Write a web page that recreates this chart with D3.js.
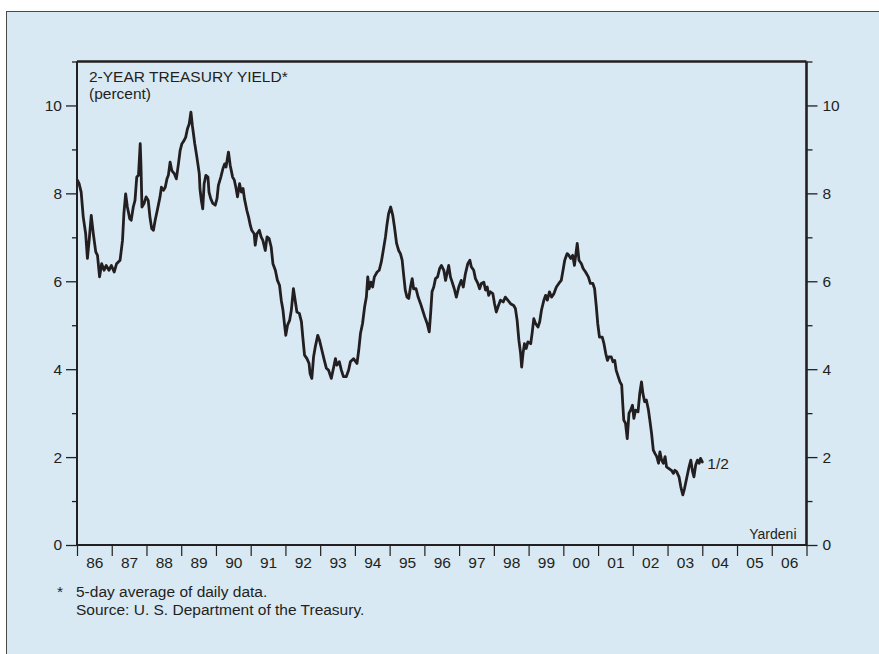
<!DOCTYPE html>
<html><head><meta charset="utf-8">
<script src="https://cdn.jsdelivr.net/npm/d3@7"></script>
<style>
html,body{margin:0;padding:0;background:#fff;}
svg{display:block;}
text{font-family:"Liberation Sans",Arial,Helvetica,sans-serif;fill:#231f20;}
</style>
</head><body>
<svg id="c" width="879" height="654"></svg>
<script>
// ---- data ----
const years = [1986.01,1986.06,1986.12,1986.18,1986.25,1986.30,1986.35,1986.41,1986.47,1986.54,1986.59,1986.65,1986.71,1986.78,1986.84,1986.92,1986.99,
1987.07,1987.14,1987.24,1987.31,1987.35,1987.40,1987.45,1987.52,1987.56,1987.62,1987.67,1987.72,1987.77,1987.82,1987.84,1987.87,1987.93,1987.99,
1988.05,1988.10,1988.15,1988.20,1988.25,1988.31,1988.39,1988.43,1988.49,1988.54,1988.59,1988.63,1988.68,1988.73,1988.80,1988.86,1988.92,1988.97,
1989.02,1989.08,1989.13,1989.18,1989.23,1989.28,1989.32,1989.39,1989.45,1989.52,1989.54,1989.58,1989.62,1989.66,1989.71,1989.77,1989.80,1989.85,1989.91,1989.98,
1990.03,1990.07,1990.14,1990.20,1990.25,1990.29,1990.36,1990.41,1990.48,1990.53,1990.58,1990.62,1990.68,1990.73,1990.78,1990.82,1990.89,1990.94,1990.99,
1991.03,1991.10,1991.13,1991.18,1991.25,1991.30,1991.35,1991.42,1991.47,1991.53,1991.59,1991.64,1991.71,1991.77,1991.83,1991.88,1991.93,1991.97,
1992.01,1992.06,1992.12,1992.17,1992.23,1992.28,1992.33,1992.40,1992.46,1992.50,1992.55,1992.62,1992.68,1992.71,1992.76,1992.81,1992.86,1992.93,1992.98,
1993.05,1993.12,1993.18,1993.24,1993.32,1993.39,1993.44,1993.48,1993.55,1993.61,1993.67,1993.75,1993.82,1993.87,1993.96,
1994.06,1994.11,1994.16,1994.22,1994.28,1994.33,1994.37,1994.41,1994.46,1994.51,1994.56,1994.64,1994.70,1994.76,1994.81,1994.88,1994.92,1994.97,
1995.03,1995.09,1995.14,1995.20,1995.26,1995.31,1995.36,1995.40,1995.45,1995.50,1995.55,1995.60,1995.65,1995.69,1995.76,1995.82,1995.89,1995.95,
1996.01,1996.08,1996.14,1996.18,1996.22,1996.27,1996.32,1996.38,1996.44,1996.49,1996.56,1996.61,1996.65,1996.70,1996.75,1996.80,1996.86,1996.92,1996.99,
1997.06,1997.12,1997.18,1997.25,1997.31,1997.35,1997.42,1997.47,1997.54,1997.59,1997.64,1997.71,1997.76,1997.81,1997.85,1997.90,1997.97,
1998.02,1998.07,1998.12,1998.19,1998.27,1998.33,1998.40,1998.48,1998.57,1998.62,1998.67,1998.72,1998.77,1998.80,1998.84,1998.88,1998.93,1998.98,
1999.06,1999.10,1999.15,1999.20,1999.27,1999.32,1999.37,1999.44,1999.49,1999.54,1999.60,1999.66,1999.73,1999.80,1999.87,1999.94,
2000.00,2000.04,2000.11,2000.16,2000.21,2000.27,2000.32,2000.40,2000.45,2000.52,2000.57,2000.64,2000.72,2000.78,2000.85,2000.90,2000.95,2000.99,
2001.04,2001.12,2001.17,2001.22,2001.27,2001.31,2001.38,2001.43,2001.48,2001.52,2001.58,2001.63,2001.68,2001.71,2001.74,2001.79,2001.84,2001.89,2001.94,2001.99,
2002.03,2002.08,2002.15,2002.20,2002.25,2002.29,2002.34,2002.39,2002.45,2002.49,2002.54,2002.59,2002.64,2002.69,2002.74,2002.78,2002.83,2002.88,2002.93,2002.97,
2003.04,2003.11,2003.17,2003.21,2003.26,2003.33,2003.38,2003.44,2003.49,2003.55,2003.62,2003.67,2003.72,2003.76,2003.81,2003.86,2003.91,2003.95,2004.00];

const yields = [8.30,8.22,8.03,7.46,7.08,6.52,6.93,7.50,7.08,6.67,6.59,6.10,6.40,6.25,6.36,6.25,6.36,
6.21,6.40,6.48,6.93,7.54,7.99,7.69,7.42,7.39,7.69,7.84,8.37,8.41,9.13,8.67,7.69,7.77,7.92,
7.84,7.46,7.20,7.16,7.39,7.61,7.92,8.14,8.07,8.14,8.33,8.41,8.71,8.52,8.45,8.33,8.67,8.98,
9.13,9.20,9.28,9.47,9.58,9.85,9.55,9.13,8.83,8.45,8.10,7.84,7.65,8.22,8.41,8.37,8.03,7.88,7.77,7.73,
7.88,8.18,8.37,8.56,8.67,8.60,8.94,8.64,8.37,8.30,8.11,7.92,8.22,8.03,8.11,7.88,7.61,7.46,7.27,
7.16,7.08,6.82,7.08,7.16,7.01,6.93,6.70,7.01,6.97,6.78,6.40,6.25,6.02,5.91,5.57,5.34,5.04,
4.77,5.00,5.11,5.34,5.83,5.57,5.30,5.27,5.08,4.73,4.32,4.24,4.13,3.90,3.79,4.28,4.51,4.77,4.66,
4.43,4.20,4.02,3.98,3.79,4.05,4.24,4.09,4.17,3.98,3.83,3.83,3.98,4.17,4.24,
4.13,4.43,4.81,5.04,5.42,5.64,6.10,5.83,5.98,5.87,6.10,6.21,6.25,6.44,6.67,7.01,7.27,7.54,
7.69,7.50,7.23,6.86,6.70,6.63,6.48,6.17,5.80,5.64,5.61,5.87,6.06,5.83,5.83,5.64,5.49,5.34,
5.19,5.04,4.85,5.27,5.76,5.87,6.06,6.10,6.29,6.36,6.25,6.02,6.17,6.36,6.10,5.98,5.83,5.64,5.87,
6.02,5.87,6.17,6.40,6.48,6.33,6.25,6.06,5.95,5.83,5.95,5.98,5.80,5.87,5.68,5.76,5.72,
5.49,5.30,5.42,5.57,5.53,5.64,5.57,5.49,5.45,5.38,5.11,4.66,4.36,4.05,4.36,4.58,4.47,4.62,
4.58,4.81,5.15,5.04,4.96,5.08,5.34,5.57,5.68,5.57,5.76,5.64,5.72,5.87,5.95,6.02,
6.29,6.48,6.63,6.59,6.52,6.59,6.36,6.86,6.48,6.40,6.29,6.21,6.10,5.95,5.95,5.83,5.42,5.04,
4.73,4.73,4.58,4.36,4.20,4.28,4.28,4.17,4.20,3.98,3.83,3.71,3.64,3.22,2.84,2.77,2.42,3.00,3.07,3.18,
2.88,3.07,3.03,3.45,3.71,3.45,3.26,3.30,3.07,2.84,2.54,2.16,2.08,2.01,1.86,2.12,1.93,1.86,2.01,1.78,
1.74,1.70,1.63,1.70,1.67,1.55,1.33,1.14,1.29,1.52,1.78,1.93,1.67,1.55,1.82,1.93,1.86,1.97,1.89];

const yearLabels = ["86","87","88","89","90","91","92","93","94","95","96","97","98","99","00","01","02","03","04","05","06"];
const majorTicks = [0,2,4,6,8,10];
const minorTicks = [1,3,5,7,9,11];
const titleText = "2-YEAR TREASURY YIELD*";
const unitText = "(percent)";
const endLabel = "1/2";
const sourceTag = "Yardeni";
const footnotes = ["5-day average of daily data.", "Source:  U. S. Department of the Treasury."];

// ---- drawing ----
const ink = "#231f20";
const svg = d3.select("#c");
const L = 77, R = 806.5, T = 61.5, B = 545;
const x = d3.scaleLinear().domain([1986, 2007]).range([L, R]);
const y = d3.scaleLinear().domain([0, 11]).range([B, T]);

// panel
svg.append("rect").attr("x", 6.5).attr("y", 11.5).attr("width", 900).attr("height", 700)
  .attr("fill", "#d8e9f4").attr("stroke", "#4a4a4a").attr("stroke-width", 1);

// left axis
const leftMajor = d3.axisLeft(y).tickValues(majorTicks).tickSize(11).tickPadding(4).tickFormat(d3.format("d"));
const gl = svg.append("g").attr("transform", `translate(${L},0)`).call(leftMajor);
const leftMinor = d3.axisLeft(y).tickValues(minorTicks).tickSize(5).tickFormat("");
const glm = svg.append("g").attr("transform", `translate(${L},0)`).call(leftMinor);

// right axis
const rightMajor = d3.axisRight(y).tickValues(majorTicks).tickSize(11).tickPadding(5).tickFormat(d3.format("d"));
const gr = svg.append("g").attr("transform", `translate(${R},0)`).call(rightMajor);
const rightMinor = d3.axisRight(y).tickValues(minorTicks).tickSize(6).tickFormat("");
const grm = svg.append("g").attr("transform", `translate(${R},0)`).call(rightMinor);

// bottom axis: ticks at year boundaries, labels centred on each year
const xTickYears = d3.range(1986, 2008);
const bottom = d3.axisBottom(x).tickValues(xTickYears).tickSize(11).tickFormat("");
const gb = svg.append("g").attr("transform", `translate(0,${B})`).call(bottom);
const labelAxis = d3.axisBottom(x).tickValues(d3.range(1986, 2007).map(d => d + 0.5))
  .tickSize(0).tickPadding(12).tickFormat((d, i) => yearLabels[i]);
const gbl = svg.append("g").attr("transform", `translate(0,${B})`).call(labelAxis);

[gl, glm, gr, grm, gb, gbl].forEach(g => {
  g.select(".domain").remove();
  g.selectAll("line").attr("stroke", ink).attr("stroke-width", 1.3);
  g.selectAll("text").attr("fill", ink).style("font-size", "15.5px")
   .style("font-family", '"Liberation Sans", Arial, sans-serif');
});
gb.selectAll("line").attr("stroke-width", 1.2);

// frame
svg.append("line").attr("x1", L).attr("x2", R).attr("y1", T).attr("y2", T).attr("stroke", ink).attr("stroke-width", 2.6);
svg.append("line").attr("x1", L).attr("x2", L).attr("y1", T).attr("y2", B).attr("stroke", ink).attr("stroke-width", 2);
svg.append("line").attr("x1", R).attr("x2", R).attr("y1", T).attr("y2", B + 1).attr("stroke", ink).attr("stroke-width", 2.6);
svg.append("line").attr("x1", L).attr("x2", R).attr("y1", B).attr("y2", B).attr("stroke", ink).attr("stroke-width", 2);

// series
const pts = years.map((d, i) => [d, yields[i]]);
svg.append("path").datum(pts)
  .attr("fill", "none").attr("stroke", ink).attr("stroke-width", 2.8)
  .attr("stroke-linejoin", "round").attr("stroke-linecap", "round")
  .attr("d", d3.line().x(d => x(d[0])).y(d => y(d[1])));

// texts
svg.append("text").attr("x", 89).attr("y", 81.5).style("font-size", "15.5px").text(titleText);
svg.append("text").attr("x", 89).attr("y", 98.5).style("font-size", "15.5px").text(unitText);
const last = pts[pts.length - 1];
svg.append("text").attr("x", x(last[0]) + 5).attr("y", y(last[1]) + 7).style("font-size", "15.5px").text(endLabel);
svg.append("text").attr("x", R - 10).attr("y", B - 6).attr("text-anchor", "end").style("font-size", "14px").text(sourceTag);

svg.append("text").attr("x", 57).attr("y", 597).style("font-size", "15.5px").text("*");
footnotes.forEach((t, i) => {
  svg.append("text").attr("x", 76).attr("y", 597 + i * 17.5).style("font-size", "15.5px").text(t);
});
</script>
</body></html>
